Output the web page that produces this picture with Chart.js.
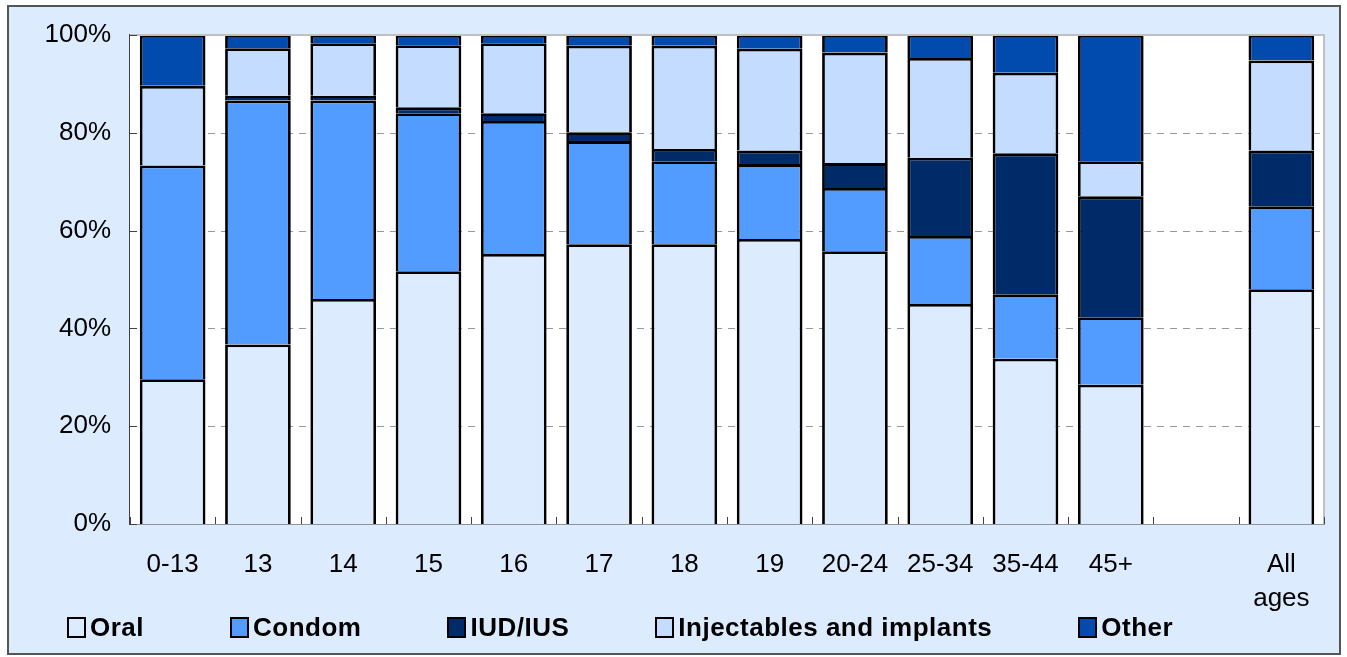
<!DOCTYPE html>
<html>
<head>
<meta charset="utf-8">
<script src="https://cdn.jsdelivr.net/npm/chart.js@4"></script>
<style>
  html, body { margin: 0; padding: 0; background: #ffffff; }
  #frame {
    position: absolute; left: 7px; top: 5px;
    width: 1330px; height: 646px;
    border: 2px solid #555555;
    background: #ddebff;
  }
  #chart { position: absolute; left: 0; top: 0; }
  #legend {
    position: absolute; left: 58px; top: 605px;
    display: flex; gap: 86px; white-space: nowrap;
    font-family: "Liberation Sans", Arial, sans-serif;
    font-weight: bold; font-size: 26px; letter-spacing: 0.5px; color: #000;
  }
  #legend .item { display: flex; align-items: center; }
  #legend .box {
    width: 15px; height: 17px; border: 2px solid #000;
    margin-right: 4px; display: inline-block;
  }
</style>
</head>
<body>
<div id="frame">
  <canvas id="chart" width="1330" height="646"></canvas>
  <div id="legend"></div>
</div>
<script>
// categorias (faixa etária) - a vazia separa "All ages"
const categories = ["0-13", "13", "14", "15", "16", "17", "18", "19", "20-24", "25-34", "35-44", "45+", "", ["All", "ages"]];

// percentuais
const oral = [29.6, 36.7, 46.0, 51.7, 55.2, 57.2, 57.2, 58.3, 55.8, 45.0, 33.8, 28.5, null, 48.0];
const condom = [43.7, 49.9, 40.6, 32.3, 27.2, 21.1, 17.0, 15.3, 12.9, 13.9, 13.2, 13.8, null, 17.0];
const iud = [0, 1.0, 1.0, 1.2, 1.6, 1.8, 2.5, 2.8, 5.1, 16.0, 28.8, 24.7, null, 11.4];
const injectables = [16.3, 9.7, 10.7, 12.7, 14.3, 17.7, 21.1, 20.8, 22.6, 20.4, 16.5, 7.2, null, 18.4];
const other = [10.4, 2.7, 1.7, 2.1, 1.7, 2.2, 2.2, 2.8, 3.6, 4.7, 7.7, 25.8, null, 5.2];

const yTicks = [0, 20, 40, 60, 80, 100];

const font = "'Liberation Sans', Arial, sans-serif";

const series = [
  { label: "Oral", data: oral, color: "#ddebff" },
  { label: "Condom", data: condom, color: "#529cff" },
  { label: "IUD/IUS", data: iud, color: "#002b69" },
  { label: "Injectables and implants", data: injectables, color: "#c4dcff" },
  { label: "Other", data: other, color: "#004bad" },
];

// fundo branco, grade tracejada, borda cinza e ticks internos
const plotArea = {
  id: "plotArea",
  beforeDatasetsDraw(chart) {
    const { ctx, chartArea: a, scales } = chart;
    ctx.save();
    ctx.fillStyle = "#ffffff";
    ctx.fillRect(a.left, a.top, a.right - a.left, a.bottom - a.top);
    ctx.strokeStyle = "#999999";
    ctx.lineWidth = 1;
    ctx.setLineDash([7, 6]);
    ctx.beginPath();
    yTicks.slice(1, -1).forEach((v) => {
      const py = Math.round(scales.y.getPixelForValue(v)) + 0.5;
      ctx.moveTo(a.left, py);
      ctx.lineTo(a.right, py);
    });
    ctx.stroke();
    ctx.restore();
  },
  afterDraw(chart) {
    const { ctx, chartArea: a, scales } = chart;
    ctx.save();
    ctx.strokeStyle = "#c0c0c0";
    ctx.lineWidth = 2;
    ctx.beginPath();
    ctx.moveTo(a.left, a.top);
    ctx.lineTo(a.right, a.top);
    ctx.lineTo(a.right, a.bottom);
    ctx.stroke();

    ctx.strokeStyle = "#404040";
    ctx.lineWidth = 1;
    ctx.beginPath();
    for (let i = 0; i <= categories.length; i++) {
      const px = Math.round(scales.x.getPixelForValue(i - 0.5)) + 0.5;
      ctx.moveTo(px, a.bottom);
      ctx.lineTo(px, a.bottom - 7);
    }
    yTicks.forEach((v) => {
      const py = Math.round(scales.y.getPixelForValue(v)) + 0.5;
      ctx.moveTo(a.left, py);
      ctx.lineTo(a.left + 7, py);
    });
    ctx.stroke();
    ctx.restore();
  },
};

const ctx = document.getElementById("chart").getContext("2d");
new Chart(ctx, {
  type: "bar",
  data: {
    labels: categories,
    datasets: series.map((s) => ({
      label: s.label,
      data: s.data,
      backgroundColor: s.color,
      borderColor: "#000000",
      borderWidth: 2.8,
      borderSkipped: "start",
      barPercentage: 0.77,
      categoryPercentage: 1,
    })),
  },
  options: {
    responsive: false,
    animation: false,
    layout: { padding: { top: 28, right: 15, bottom: 0, left: 0 } },
    plugins: {
      legend: { display: false },
      tooltip: { enabled: false },
    },
    scales: {
      x: {
        stacked: true,
        afterFit: (scale) => { scale.height = 129; },
        grid: { display: false, drawTicks: false },
        border: { display: true, color: "#404040", width: 1.5 },
        ticks: {
          color: "#000",
          padding: 24,
          maxRotation: 0,
          autoSkip: false,
          font: { family: font, size: 26, lineHeight: 1.3 },
        },
      },
      y: {
        stacked: true,
        min: 0,
        max: 100,
        afterFit: (scale) => {
          scale.width = 121;
          scale.paddingTop = 0;
          scale.paddingBottom = 0;
        },
        afterBuildTicks: (scale) => { scale.ticks = yTicks.map((v) => ({ value: v })); },
        grid: { display: false, drawTicks: false },
        border: { display: true, color: "#404040", width: 1.5 },
        ticks: {
          color: "#000",
          padding: 19,
          callback: (v) => v + "%",
          font: { family: font, size: 26 },
        },
      },
    },
  },
  plugins: [plotArea],
});

// legenda em HTML
const legend = document.getElementById("legend");
series.forEach((s) => {
  const item = document.createElement("div");
  item.className = "item";
  const box = document.createElement("span");
  box.className = "box";
  box.style.background = s.color;
  item.appendChild(box);
  item.appendChild(document.createTextNode(s.label));
  legend.appendChild(item);
});
</script>
</body>
</html>
